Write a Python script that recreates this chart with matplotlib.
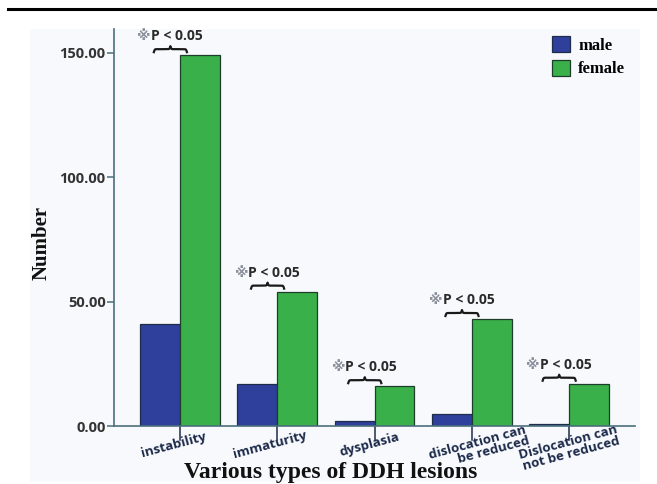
import numpy as np
import matplotlib
matplotlib.use("Agg")
import matplotlib.pyplot as plt
import matplotlib.transforms as mtransforms
from matplotlib.patches import Rectangle

# lesion types and counts by sex
tipos = ["instability", "immaturity", "dysplasia",
         "dislocation can\nbe reduced", "Dislocation can\nnot be reduced"]
male = [41, 17, 2, 5, 1]
female = [149, 54, 16, 43, 17]
marca = "※"
etiqueta = "P < 0.05"

azul = "#2f3f9c"
verde = "#39b04a"
eje = "#4a6f7c"

fig = plt.figure(figsize=(6.57, 4.84), dpi=100)

# fondo claro del panel y la linea negra superior
fig.patches.append(Rectangle((30/657, 2/484), 610/657, 453/484, transform=fig.transFigure,
                             facecolor="#f8f9fc", edgecolor="none", zorder=-1))
fig.add_artist(plt.Line2D([8/657, 656/657], [1-9/484, 1-9/484], transform=fig.transFigure,
                          color="black", lw=2.2))

ax = fig.add_axes([114/657, 58/484, 521/657, 397/484])
ax.set_facecolor("none")

x = np.arange(len(tipos))
w = 0.41
ax.bar(x - w/2, male, w, color=azul, edgecolor="#1e2d4a", linewidth=0.9, label="male")
ax.bar(x + w/2, female, w, color=verde, edgecolor="#1e3d2a", linewidth=0.9, label="female")

ax.set_xlim(-0.68, 4.68)
ax.set_ylim(0, 159.5)
ax.set_yticks([0, 50, 100, 150])
ax.set_yticklabels(["0.00", "50.00", "100.00", "150.00"])
ax.set_xticks(x)
ax.set_xticklabels(tipos, rotation=15, rotation_mode="anchor", ha="center", va="top",
                   multialignment="right", linespacing=0.85)

for s in ["top", "right"]:
    ax.spines[s].set_visible(False)
for s in ["left", "bottom"]:
    ax.spines[s].set_color(eje)
    ax.spines[s].set_linewidth(1.2)
ax.tick_params(axis="y", length=5, color=eje, width=1.1, labelsize=10.5, labelcolor="#333333", pad=1)
ax.tick_params(axis="x", direction="in", length=0, labelsize=9.5, labelcolor="#1c2a4a", pad=9)
for t in ax.get_yticklabels() + ax.get_xticklabels():
    t.set_fontfamily("Open Sans")
    t.set_fontweight("bold")

# corrimiento de cada etiqueta del eje x (en puntos)
corr = [(-6, 0), (-6.5, 0), (-5, 0), (3, 1.5), (-2, 1.5)]
for t, (dx, dy) in zip(ax.get_xticklabels(), corr):
    t.set_transform(t.get_transform() + mtransforms.ScaledTranslation(dx/72, dy/72, fig.dpi_scale_trans))

# marcas del eje x que bajan desde la base
for xi in x:
    ax.plot([xi, xi], [0, -5.5], color="#1e2d4a", lw=1.1, clip_on=False)


def llave(ax, x0, x1, y, h):
    t = np.linspace(0, 1, 101)
    beta = 40
    mitad = 1/(1+np.exp(-beta*(t-t[0]))) + 1/(1+np.exp(-beta*(t-t[-1])))
    yy = np.concatenate([mitad, mitad[-2::-1]])
    yy = (yy - yy.min()) / (yy.max() - yy.min())
    xx = np.linspace(x0, x1, len(yy))
    ax.plot(xx, y + h*yy, color="#1a1a1a", lw=1.6, clip_on=False)


for xi, f in zip(x, female):
    llave(ax, xi - 0.27, xi + 0.07, f + 1.2, 2.4)
    ax.text(xi - 0.3, f + 4.8, marca, ha="right", va="bottom", fontsize=10,
            fontweight="bold", color="#8a909c",
            family=["DejaVu Sans", "Noto Sans CJK SC"])
    ax.text(xi - 0.3, f + 4.8, etiqueta, ha="left", va="bottom", fontsize=10,
            fontweight="bold", color="#2a2a2a", family="Open Sans")

ax.set_ylabel("Number", family="Liberation Serif", fontweight="bold", fontsize=15,
              color="#111111")
ax.yaxis.set_label_coords(-0.12, 0.46)
ax.set_xlabel("Various types of DDH lesions", family="Liberation Serif", fontweight="bold",
              fontsize=17, color="#111111")
ax.xaxis.set_label_coords(0.415, -0.09)

leg = ax.legend(loc="upper right", bbox_to_anchor=(1.01, 1.02), frameon=False,
                prop={"family": "Liberation Serif", "weight": "bold", "size": 12},
                handlelength=1.1, handleheight=1.1, handletextpad=0.5, labelspacing=0.35)

fig.savefig("out.png", dpi=100)
